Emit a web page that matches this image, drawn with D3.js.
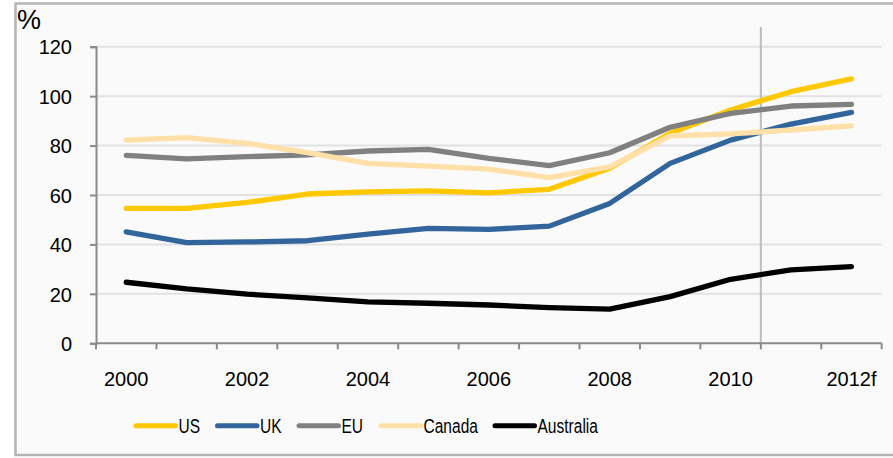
<!DOCTYPE html>
<html>
<head>
<meta charset="utf-8">
<script src="https://cdn.jsdelivr.net/npm/d3@7"></script>
<style>
  html, body { margin: 0; padding: 0; background: #ffffff; }
  svg { display: block; font-family: "Liberation Sans", Arial, sans-serif; }
</style>
</head>
<body>
<svg id="chart" width="893" height="458"></svg>
<script>
// Years on the horizontal axis (2012 is a forecast)
const years = ["2000","2001","2002","2003","2004","2005","2006","2007","2008","2009","2010","2011","2012"];
const yearLabels = ["2000","","2002","","2004","","2006","","2008","","2010","","2012f"];

// Series values, % of GDP
const us        = [54.6, 54.6, 57.0, 60.4, 61.3, 61.7, 60.9, 62.3, 70.8, 85.0, 94.4, 101.8, 107.0];
const uk        = [45.1, 40.7, 41.0, 41.5, 44.2, 46.5, 46.1, 47.4, 56.6, 72.8, 82.2, 88.7, 93.4];
const eu        = [76.0, 74.6, 75.5, 76.2, 77.8, 78.5, 74.8, 71.9, 77.1, 87.4, 93.0, 96.0, 96.7];
const canada    = [82.2, 83.2, 80.9, 77.1, 72.8, 71.7, 70.5, 67.0, 71.4, 83.9, 84.7, 86.3, 88.0];
const australia = [24.7, 22.0, 19.9, 18.4, 16.8, 16.2, 15.5, 14.4, 13.8, 18.9, 25.9, 29.7, 31.0];

const seriesNames  = ["US", "UK", "EU", "Canada", "Australia"];
const seriesValues = [us, uk, eu, canada, australia];
const seriesColors = ["#FFC800", "#31659C", "#808080", "#FFE0A8", "#000000"];

const yTicks = [0, 20, 40, 60, 80, 100, 120];
const forecastFrom = "2011";

const svg = d3.select("#chart");

// Frame and panel background
svg.append("rect")
  .attr("x", 15.5).attr("y", 3.5).attr("width", 900).attr("height", 451.5)
  .attr("fill", "#fafafa").attr("stroke", "#b4b4b4").attr("stroke-width", 2.5);

const x = d3.scaleBand().domain(years).range([96, 881.7]).padding(0);
const y = d3.scaleLinear().domain([0, 120]).range([343.3, 46.7]);

// Horizontal gridlines
svg.append("g").selectAll("line")
  .data(yTicks.filter(d => d > 0))
  .join("line")
  .attr("x1", 96).attr("x2", 881.7)
  .attr("y1", d => y(d)).attr("y2", d => y(d))
  .attr("stroke", "#e2e2e2").attr("stroke-width", 2);

// Forecast divider
svg.append("line")
  .attr("x1", x(forecastFrom)).attr("x2", x(forecastFrom))
  .attr("y1", 27).attr("y2", y(0))
  .attr("stroke", "#bcbcbc").attr("stroke-width", 2);

// Y axis
const yAxis = svg.append("g")
  .attr("transform", "translate(96,0)")
  .call(d3.axisLeft(y).tickValues(yTicks).tickSize(6).tickPadding(18));
yAxis.select(".domain").attr("stroke", "#8a8a8a").attr("stroke-width", 2);
yAxis.selectAll(".tick line").attr("stroke", "#8a8a8a").attr("stroke-width", 2);
yAxis.selectAll(".tick text")
  .attr("font-size", 20).attr("fill", "#000")
  .attr("font-family", "Liberation Sans, Arial, sans-serif")
  .attr("dy", "0.36em");

// X axis: ticks on band boundaries, labels at band centres
const xAxisG = svg.append("g");
xAxisG.append("line")
  .attr("x1", 96).attr("x2", 881.7)
  .attr("y1", y(0)).attr("y2", y(0))
  .attr("stroke", "#8a8a8a").attr("stroke-width", 2);
const boundaries = years.map(d => x(d)).concat([x.range()[1]]);
xAxisG.selectAll("line.tk")
  .data(boundaries)
  .join("line").attr("class", "tk")
  .attr("x1", d => d).attr("x2", d => d)
  .attr("y1", y(0)).attr("y2", y(0) + 6)
  .attr("stroke", "#8a8a8a").attr("stroke-width", 2);
xAxisG.selectAll("text")
  .data(years)
  .join("text")
  .attr("x", d => x(d) + x.bandwidth() / 2)
  .attr("y", 386)
  .attr("text-anchor", "middle")
  .attr("font-size", 20)
  .attr("fill", "#000")
  .text((d, i) => yearLabels[i]);

// Unit label
svg.append("text")
  .attr("x", 17).attr("y", 29)
  .attr("font-size", 27).attr("fill", "#000")
  .text("%");

// Series lines
const line = d3.line()
  .x((d, i) => x(years[i]) + x.bandwidth() / 2)
  .y(d => y(d));

svg.append("g").selectAll("path")
  .data(seriesValues)
  .join("path")
  .attr("d", d => line(d))
  .attr("fill", "none")
  .attr("stroke", (d, i) => seriesColors[i])
  .attr("stroke-width", 5.3)
  .attr("stroke-linecap", "round")
  .attr("stroke-linejoin", "round");

// Legend
const legendX = [136, 217.5, 299, 381, 495];
const legend = svg.append("g");
seriesNames.forEach((name, i) => {
  const g = legend.append("g").attr("transform", `translate(${legendX[i]},425.7)`);
  g.append("line")
    .attr("x1", 0).attr("x2", 39.5)
    .attr("stroke", seriesColors[i]).attr("stroke-width", 5)
    .attr("stroke-linecap", "round");
  g.append("text")
    .attr("transform", "translate(42.5,7.5) scale(0.74,1)")
    .attr("font-size", 21).attr("fill", "#000")
    .text(name);
});
</script>
</body>
</html>
